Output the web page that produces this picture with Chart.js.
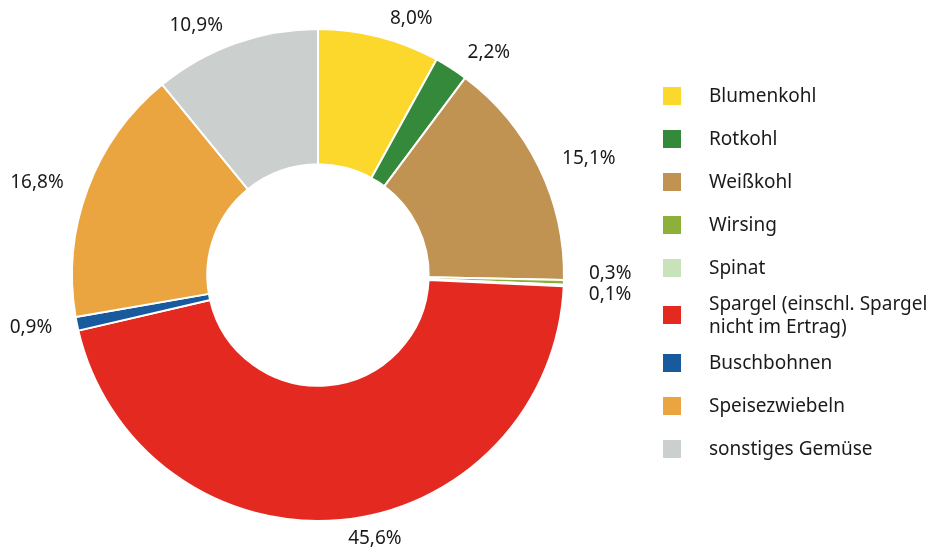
<!DOCTYPE html>
<html>
<head>
<meta charset="utf-8">
<script src="https://cdn.jsdelivr.net/npm/chart.js@4.4.1/dist/chart.umd.min.js"></script>
<style>
  html, body { margin: 0; padding: 0; background: #fff; }
  .wrap { position: relative; width: 940px; height: 554px; }
  canvas { position: absolute; left: 0; top: 0; }
  .legend { position: absolute; left: 663px; top: 74px; font-family: "Noto Sans", sans-serif; font-size: 19px; color: #1a1a1a; }
  .legend .row { display: flex; align-items: center; height: 43px; }
  .legend .row.tall { height: 52px; }
  .legend .box { width: 18px; height: 18px; margin-right: 28px; flex: none; }
  .legend .txt { line-height: 23px; }
</style>
</head>
<body>
<div class="wrap">
  <canvas id="chart" width="940" height="554"></canvas>
  <div class="legend" id="legend"></div>
</div>
<script>
const labels = ['Blumenkohl', 'Rotkohl', 'Weißkohl', 'Wirsing', 'Spinat',
  'Spargel (einschl. Spargel\nnicht im Ertrag)', 'Buschbohnen', 'Speisezwiebeln', 'sonstiges Gemüse']
const values = [8.0, 2.2, 15.1, 0.3, 0.1, 45.6, 0.9, 16.8, 10.9]
const colors = ['#fbd82b', '#348a3a', '#c09352', '#8db03a', '#c8e2ba', '#e42a20', '#185a9e', '#eaa540', '#cbcfce']

const fmt = (v) => v.toFixed(1).replace('.', ',') + '%'

// legend on the right
const legend = document.getElementById('legend')
labels.forEach((l, i) => {
  const row = document.createElement('div')
  row.className = 'row' + (l.includes('\n') ? ' tall' : '')
  const box = document.createElement('span')
  box.className = 'box'
  box.style.background = colors[i]
  const txt = document.createElement('span')
  txt.className = 'txt'
  txt.innerHTML = l.replace('\n', '<br>')
  row.append(box, txt)
  legend.append(row)
})

// percentage labels outside the ring
const outsideLabels = {
  id: 'outsideLabels',
  afterDatasetsDraw(chart) {
    const ctx = chart.ctx
    const meta = chart.getDatasetMeta(0)
    let items = []
    meta.data.forEach((arc, i) => {
      const p = arc.getProps(['x', 'y', 'startAngle', 'endAngle', 'outerRadius'], true)
      const mid = (p.startAngle + p.endAngle) / 2
      const r = p.outerRadius + 19
      items.push({
        text: fmt(values[i]),
        x: p.x + Math.cos(mid) * r,
        y: p.y + Math.sin(mid) * r,
        right: Math.cos(mid) >= 0
      })
    })
    // push overlapping labels apart on each side
    const minGap = 21
    ;[true, false].forEach(side => {
      const list = items.filter(it => it.right === side).sort((a, b) => a.y - b.y)
      for (let k = 0; k < 20; k++) {
        for (let j = 1; j < list.length; j++) {
          const d = list[j].y - list[j - 1].y
          if (d < minGap) {
            const s = (minGap - d) / 2
            list[j - 1].y -= s
            list[j].y += s
          }
        }
      }
    })
    ctx.save()
    ctx.font = '19px "Noto Sans", sans-serif'
    ctx.fillStyle = '#1a1a1a'
    ctx.textBaseline = 'middle'
    items.forEach(it => {
      ctx.textAlign = it.right ? 'left' : 'right'
      ctx.fillText(it.text, it.right ? it.x + 6 : it.x - 6, it.y)
    })
    ctx.restore()
  }
}

new Chart(document.getElementById('chart'), {
  type: 'doughnut',
  data: {
    labels: labels,
    datasets: [{
      data: values,
      backgroundColor: colors,
      borderColor: '#ffffff',
      borderWidth: 2,
      hoverOffset: 0
    }]
  },
  options: {
    responsive: false,
    animation: false,
    cutout: '45%',
    layout: { padding: { left: 71, right: 375, top: 28, bottom: 32 } },
    plugins: {
      legend: { display: false },
      tooltip: { enabled: false }
    }
  },
  plugins: [outsideLabels]
})
</script>
</body>
</html>
